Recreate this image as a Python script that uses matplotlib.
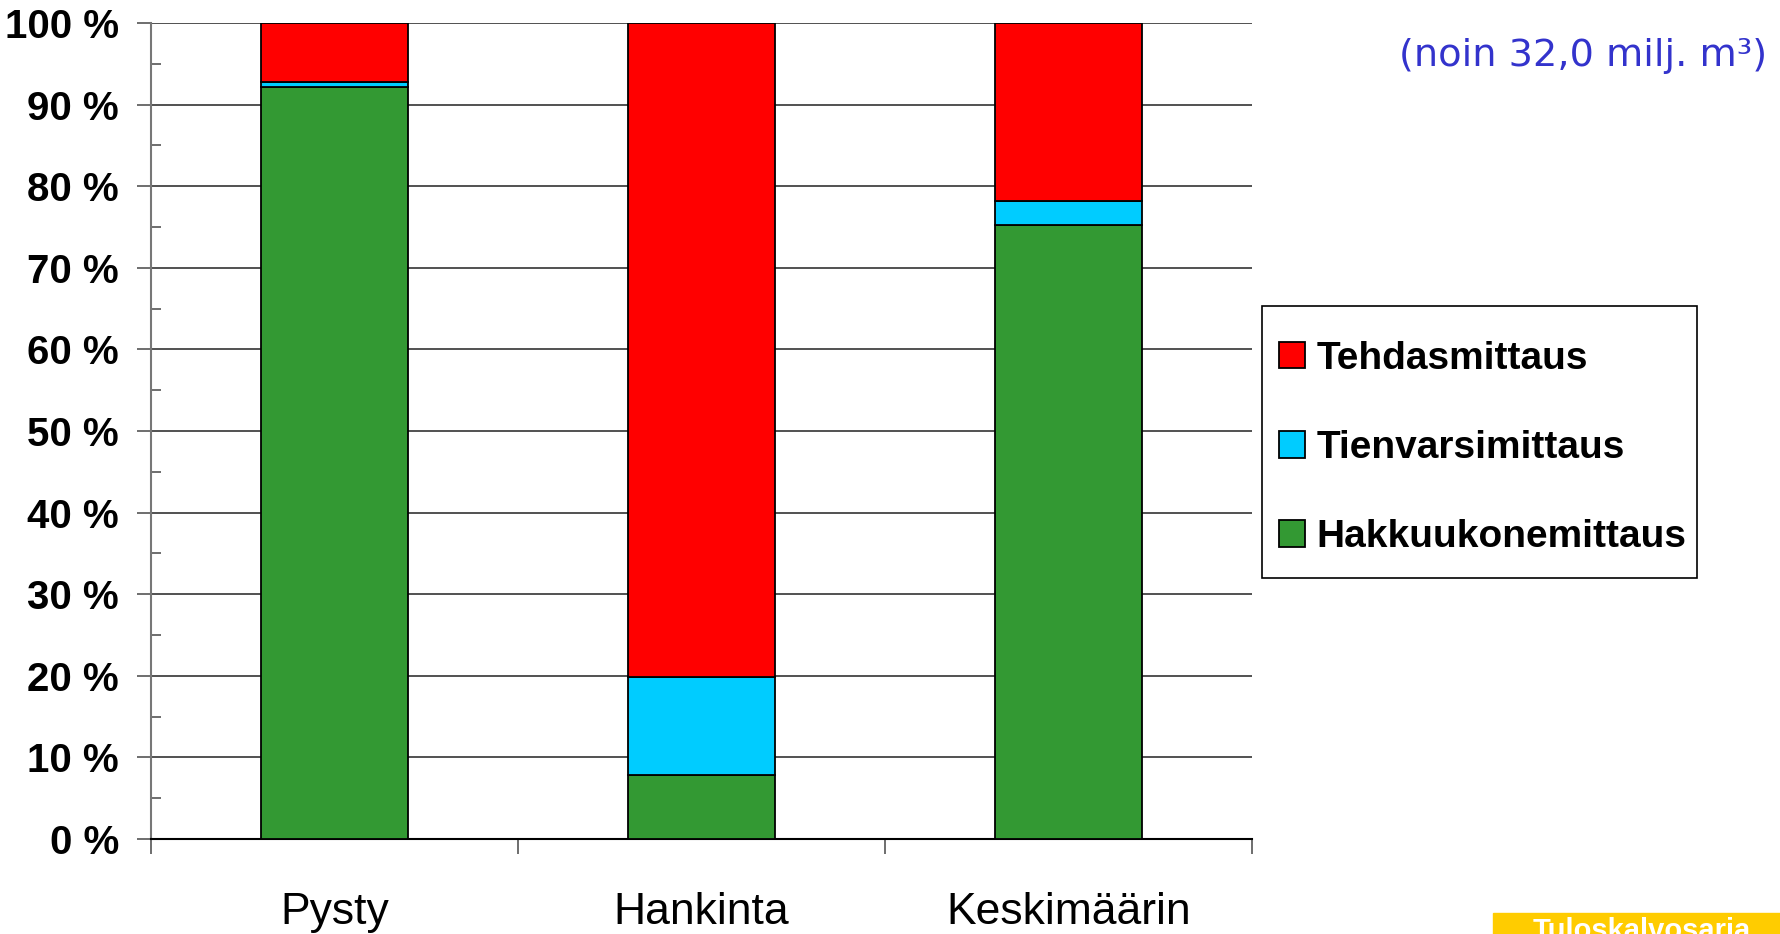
import numpy as np
import matplotlib.pyplot as plt
from matplotlib.patches import Rectangle

# Data (percent shares)
categories = ['Pysty', 'Hankinta', 'Keskimäärin']
hakkuukone = [92.1, 7.9, 75.3]
tienvarsi = [0.7, 11.9, 2.9]
tehdas = [7.2, 80.2, 21.8]
series_names = ['Hakkuukonemittaus', 'Tienvarsimittaus', 'Tehdasmittaus']
series_colors = ['#339933', '#00CCFF', '#FF0000']
y_ticks = [0, 10, 20, 30, 40, 50, 60, 70, 80, 90, 100]
y_labels = [f'{v} %' for v in y_ticks]

plt.rcParams['font.family'] = ['Liberation Sans', 'DejaVu Sans']

W, H = 1780, 934
fig = plt.figure(figsize=(W / 100, H / 100), dpi=100)
ax = fig.add_axes([0.0848, 0.1017, 0.6186, 0.8737])

x = np.arange(len(categories))
bottom = np.zeros(len(categories))
for vals, name, col in zip([hakkuukone, tienvarsi, tehdas], series_names, series_colors):
    ax.bar(x, vals, width=0.40, bottom=bottom, color=col, edgecolor='black',
           linewidth=1.3, label=name, zorder=3)
    bottom += np.array(vals)

ax.set_xlim(-0.5, 2.5)
ax.set_ylim(0, 100)

# y axis
ax.set_yticks(y_ticks)
ax.set_yticklabels(y_labels, fontsize=29, fontweight='bold')
ax.set_yticks(np.arange(5, 100, 10), minor=True)
ax.tick_params(axis='y', which='major', direction='out', length=10, width=1.2,
               color='#555555', pad=13)
ax.tick_params(axis='y', which='minor', direction='in', length=7, width=1.2,
               color='#555555')
ax.yaxis.grid(True, which='major', color='#333333', linewidth=1.2, zorder=0)

# x axis: boundaries as ticks, category names as minor tick labels
ax.set_xticks([-0.5, 0.5, 1.5, 2.5])
ax.set_xticklabels([])
ax.set_xticks(x, minor=True)
ax.set_xticklabels(categories, minor=True, fontsize=32)
ax.tick_params(axis='x', which='major', direction='out', length=11, width=1.2,
               color='#555555')
ax.tick_params(axis='x', which='minor', length=0, pad=38)

ax.spines['top'].set_visible(False)
ax.spines['right'].set_visible(False)
ax.spines['left'].set_color('#777777')
ax.spines['left'].set_linewidth(1.5)
ax.spines['bottom'].set_color('black')
ax.spines['bottom'].set_linewidth(1.5)
ax.set_axisbelow(True)

# legend frame drawn separately, legend entries in reverse order
fig.patches.append(Rectangle((1262 / W, 1 - 578 / H), 435 / W, 272 / H,
                             transform=fig.transFigure, facecolor='white',
                             edgecolor='black', linewidth=1.2, zorder=1))
handles, labels = ax.get_legend_handles_labels()
leg = fig.legend(handles[::-1], labels[::-1], loc='center left',
                 bbox_to_anchor=(1279 / W, 1 - 448 / H),
                 prop={'family': 'Liberation Sans', 'weight': 'bold', 'size': 28},
                 frameon=False,
                 handlelength=0.67, handleheight=0.67, handletextpad=0.3,
                 labelspacing=1.37, borderpad=0, borderaxespad=0)

fig.text(1767 / W, 1 - 56 / H, '(noin 32,0 milj. m³)', ha='right', va='center',
         fontsize=27.5, color='#3333CC', family='DejaVu Sans')

# yellow tag at bottom right, clipped by the image edge
fig.patches.append(Rectangle((1493 / W, 0), 1 - 1493 / W, 21 / H,
                             transform=fig.transFigure, color='#FFCC00', zorder=1))
fig.text(1533 / W, 1 - 917 / H, 'Tuloskalvosarja', ha='left', va='top',
         fontsize=21, fontweight='bold', color='white')

fig.savefig('out.png', dpi=100)
